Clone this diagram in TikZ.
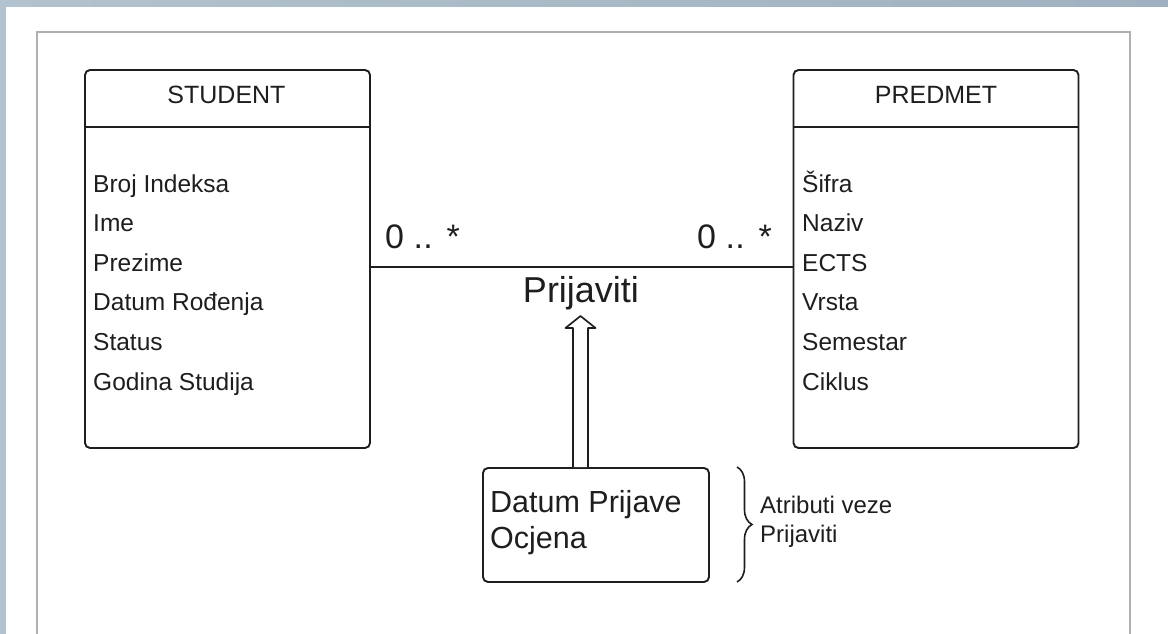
\documentclass[tikz,border=0pt]{standalone}
\usepackage{fontspec}
\setmainfont{Liberation Sans}
\usetikzlibrary{calc,decorations.pathreplacing}
\definecolor{ink}{HTML}{1E1E1E}
\definecolor{framegray}{HTML}{B0B0B0}
\definecolor{slideL}{HTML}{B2C2CE}
\definecolor{slideR}{HTML}{9FB1C0}
\begin{document}
\begin{tikzpicture}[x=1pt,y=-1pt,
  entity/.style={draw=ink, line width=1.9pt, rounded corners=5pt, minimum width=285pt, minimum height=378pt, inner sep=0pt},
  attr/.style={anchor=base west, inner sep=0pt, font=\fontsize{24.5}{28}\selectfont, text=ink},
  head/.style={anchor=base, inner sep=0pt, font=\fontsize{25}{28}\selectfont, text=ink},
  mult/.style={anchor=base west, inner sep=0pt, font=\fontsize{34}{38}\selectfont, text=ink},
  rule/.style={draw=ink, line width=1.9pt},
  ]
\useasboundingbox (0,0) rectangle (1168,634);
\fill[white] (0,0) rectangle (1168,634);
\shade[left color=slideL, right color=slideR] (0,0) rectangle (1168,7);
\fill[slideL] (0,0) rectangle (6,634);
\draw[framegray, line width=2pt] (37,640) -- (37,32) -- (1130,32) -- (1130,640);

\coordinate (hdr) at (0,127);
\coordinate (assoc) at (0,267);

% STUDENT
\node[entity] (student) at (227.5,259) {};
\draw[rule] (student.west |- hdr) -- (student.east |- hdr);
\node[head] (sname) at (226.5,103) {STUDENT};
\node[attr] (s1) at (93,192) {Broj Indeksa};
\node[attr] (s2) at (93,231.5) {Ime};
\node[attr] (s3) at (93,271) {Prezime};
\node[attr] (s4) at (93,310.5) {Datum Ro\dj enja};
\node[attr] (s5) at (93,350) {Status};
\node[attr] (s6) at (93,390) {Godina Studija};

% PREDMET
\node[entity] (predmet) at (936,259) {};
\draw[rule] (predmet.west |- hdr) -- (predmet.east |- hdr);
\node[head] (pname) at (936,103) {PREDMET};
\node[attr] (p1) at (802,192) {Šifra};
\node[attr] (p2) at (802,231.5) {Naziv};
\node[attr] (p3) at (802,271) {ECTS};
\node[attr] (p4) at (802,310.5) {Vrsta};
\node[attr] (p5) at (802,350) {Semestar};
\node[attr] (p6) at (802,390) {Ciklus};

% association
\draw[rule] (student.east |- assoc) -- (predmet.west |- assoc);
\node[mult] (m1) at (385,248) {0 .\kern0.5pt. \kern1pt*};
\node[mult] (m2) at (697,248) {0 .\kern0.5pt. \kern1pt*};
\node[anchor=base, inner sep=0pt, font=\fontsize{36}{40}\selectfont, text=ink] (rel) at (581,302) {Prijaviti};

% link attribute box
\node[entity, minimum width=226pt, minimum height=114pt] (link) at (596,525) {};
\node[anchor=base west, inner sep=0pt, font=\fontsize{30.5}{34}\selectfont, text=ink] (l1) at (490,512) {Datum Prijave};
\node[anchor=base west, inner sep=0pt, font=\fontsize{30.5}{34}\selectfont, text=ink] (l2) at (490,548) {Ocjena};

% hollow arrow
\coordinate (tip) at (580.5,316);
\draw[ink, line width=1.7pt, fill=white, line join=round]
  ($(tip |- link.north)+(-7.5,0)$) -- ($(tip)+(-7.5,12)$) -- ($(tip)+(-15,12)$) -- (tip)
  -- ($(tip)+(15,12)$) -- ($(tip)+(7.5,12)$) -- ($(tip |- link.north)+(7.5,0)$);

% brace and note
\draw[ink, line width=1.6pt, decorate, decoration={brace, amplitude=15pt}] (737,467) -- (737,582);
\node[anchor=base west, inner sep=0pt, font=\fontsize{24}{28}\selectfont, text=ink] (n1) at (760,513) {Atributi veze};
\node[anchor=base west, inner sep=0pt, font=\fontsize{24}{28}\selectfont, text=ink] (n2) at (760,542) {Prijaviti};
\end{tikzpicture}
\end{document}
